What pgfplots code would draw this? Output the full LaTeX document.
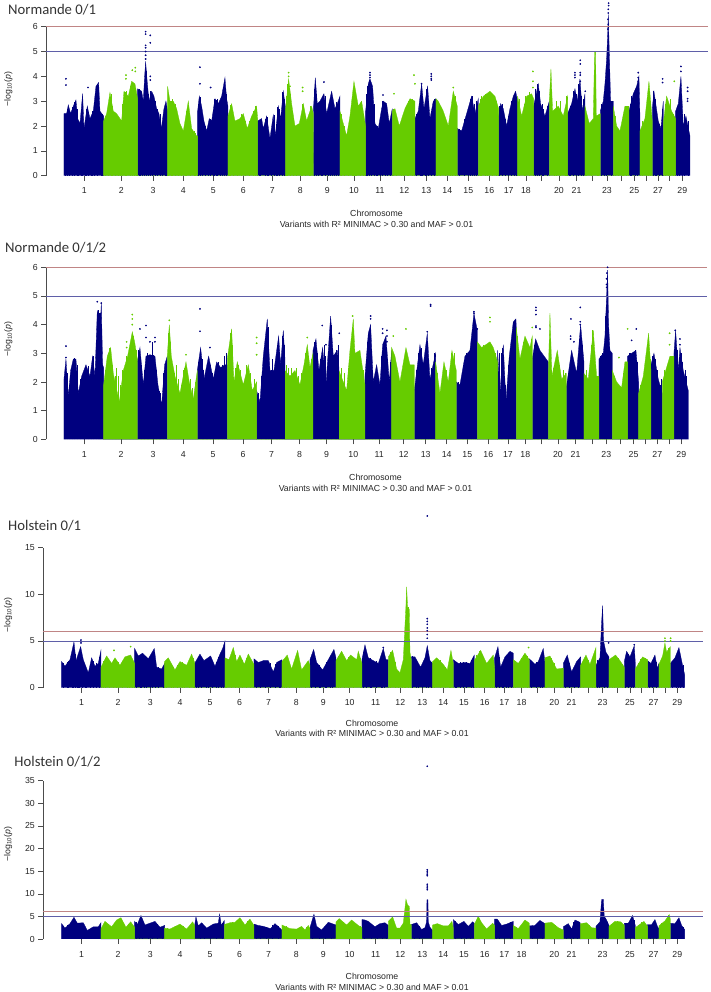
\documentclass[border=0pt]{standalone}
\usepackage{pgfplots}
\pgfplotsset{compat=1.18}
\usepackage{fontspec}
\setmainfont{Liberation Sans}
\newfontfamily\ttl{Carlito}
\definecolor{nv}{HTML}{00007F}
\definecolor{gn}{HTML}{66CC00}
\definecolor{rl}{HTML}{C08585}
\definecolor{bl}{HTML}{5F5FA8}
\newcommand{\sz}{\fontsize{8.75}{10.6}\selectfont}
\pgfplotsset{
  manh/.style={
    scale only axis, clip=false, ymin=0,
    axis lines*=left,
    x axis line style={draw=none},
    y axis line style={draw=black!70,-},
    tick style={draw=black!70,line width=0.5pt},
    tick align=outside,
    major tick length=5pt,
    xtick pos=bottom, ytick pos=left,
    tick label style={font=\sz,text=black!85},
    xticklabel style={yshift=-3.5pt},
    /pgf/number format/assume math mode=true,
    xticklabels={1,2,3,4,5,6,7,8,9,10,11,12,13,14,15,16,17,18,,20,21,,23,,25,,27,,29},
    xlabel style={font=\sz,text=black!85,align=center,anchor=north},
    ylabel style={font=\sz,text=black!85,anchor=center},
    every axis title shift=0pt,
    title style={font=\ttl\fontsize{14.7}{16}\selectfont,text=black!80,anchor=west,inner sep=0pt},
  },
  area nv/.style={fill=nv,draw=nv,line width=0.3pt},
  area gn/.style={fill=gn,draw=gn,line width=0.3pt},
  spike nv/.style={ycomb,nv,line width=0.8pt},
  spike gn/.style={ycomb,gn,line width=0.8pt},
  dots nv/.style={only marks,mark=*,mark size=0.65pt,color=nv},
  dots gn/.style={only marks,mark=*,mark size=0.65pt,color=gn},
}
\begin{document}
\begin{tikzpicture}
\path[use as bounding box] (0,0) rectangle (710pt,992pt);

% Normande 0/1  (x is position in thirds of a reference pixel)
\begin{axis}[manh, at={(46.3pt,816.3pt)}, anchor=south west, width=661.3pt, height=149pt,
  xmin=139, xmax=2123, ymax=6, ytick={0,...,6},
  xtick={253,364,459,550,640,730,817,901,982,1062,1140,1213,1279,1342,1405,1468,1526,1578,1625,1677,1730,1778,1821,1864,1903,1938,1974,2008,2047},
  title={Normande 0/1}, title style={at={(axis description cs:-0.058,1.112)}},
  xlabel={Chromosome\\Variants with R² MINIMAC > 0.30 and MAF > 0.01},
  xlabel style={at={(axis description cs:0.4993,-0.208)}},
  ylabel={−log\textsubscript{10}(\textit{p})},
  ylabel style={at={(axis description cs:-0.0575,0.582)}}]
\addplot[area nv] coordinates {
 (192,0)(192,2.5)(200,2.5)(205,2.85)(212,2.5)(220,2.8)(228,3.05)(233,2.3)(240,2.1)(248,3.3)(252,1.9)(262,2.8)(270,2.3)(280,2.6)(288,3.6)(296,3.75)(300,2.6)(311,2.4)(311,0)
 (413,0)(413,3.5)(425,3.4)(430,3.0)(434,4.0)(437,4.6)(441,3.9)(447,3.0)(455,3.4)(462,3.2)(470,2.7)(477,2.5)(484,1.9)(492,2.7)(498,3.0)(503,2.6)(503,0)
 (593,0)(593,2.6)(598,3.2)(605,2.8)(612,2.2)(620,1.8)(628,2.3)(635,2.2)(645,3.1)(655,2.9)(665,3.2)(675,3.95)(680,3.1)(684,2.8)(684,0)
 (773,0)(773,2.2)(785,2.3)(790,1.9)(800,2.4)(810,1.5)(820,2.45)(826,1.6)(835,2.8)(842,2.3)(850,3.4)(857,2.7)(857,0)
 (940,0)(941,2.8)(946,3.95)(952,2.9)(960,3.0)(972,3.3)(980,2.5)(995,3.4)(1005,2.7)(1012,2.9)(1020,3.2)(1020,0)
 (1097,0)(1097,2.6)(1105,3.7)(1110,3.9)(1118,3.6)(1125,2.1)(1135,1.9)(1145,2.7)(1150,3.0)(1160,2.9)(1168,2.1)(1177,2.7)(1177,0)
 (1245,0)(1245,2.3)(1255,2.6)(1265,3.7)(1272,2.7)(1283,3.6)(1290,2.3)(1300,3.0)(1308,3.1)(1308,0)
 (1372,0)(1372,1.9)(1385,1.8)(1400,2.5)(1415,3.2)(1425,2.5)(1435,3.1)(1435,0)
 (1496,0)(1496,2.4)(1502,2.9)(1510,2.7)(1520,2.0)(1530,2.7)(1540,3.2)(1547,3.4)(1553,3.0)(1553,0)
 (1601,0)(1601,2.8)(1615,3.7)(1622,2.9)(1635,2.4)(1648,3.0)(1648,0)
 (1703,0)(1703,2.5)(1715,2.9)(1725,3.5)(1732,3.0)(1740,3.9)(1747,2.6)(1755,3.3)(1755,0)
 (1801,0)(1801,2.6)(1810,3.0)(1815,3.7)(1820,4.7)(1823,5.6)(1825,6.5)(1828,5.0)(1832,3.0)(1840,3.0)(1840,0)
 (1887,0)(1887,2.6)(1900,3.3)(1910,3.6)(1917,4.0)(1920,2.4)(1920,0)
 (1957,0)(1957,2.7)(1962,3.4)(1975,2.2)(1983,1.9)(1990,3.0)(1990,0)
 (2027,0)(2027,2.6)(2035,2.9)(2043,4.0)(2050,2.0)(2058,2.4)(2070,1.6)(2070,0)};
\addplot[area gn] coordinates {
 (311,0)(311,2.2)(320,2.5)(330,3.35)(340,2.6)(350,2.5)(365,2.2)(372,3.4)(385,3.2)(395,3.8)(405,3.7)(413,3.1)(413,0)
 (503,0)(503,3.6)(510,3.0)(520,3.0)(530,2.7)(540,2.1)(550,1.8)(565,3.0)(575,1.9)(590,1.6)(593,1.6)(593,0)
 (684,0)(684,2.4)(695,2.9)(705,2.2)(720,2.3)(730,2.5)(742,1.9)(755,2.4)(770,2.8)(773,2.3)(773,0)
 (857,0)(857,2.7)(866,3.9)(875,2.9)(885,2.0)(898,2.1)(910,2.9)(920,2.2)(935,2.8)(940,2.5)(940,0)
 (1020,0)(1020,2.6)(1040,1.6)(1050,2.4)(1062,3.8)(1075,2.8)(1085,3.0)(1097,2.0)(1097,0)
 (1177,0)(1177,2.6)(1185,2.7)(1198,2.0)(1215,2.7)(1230,3.1)(1245,3.0)(1245,0)
 (1308,0)(1308,3.1)(1315,3.0)(1330,2.6)(1345,2.0)(1360,3.4)(1372,2.8)(1372,0)
 (1435,0)(1435,2.8)(1450,3.2)(1470,3.4)(1485,3.2)(1496,2.7)(1496,0)
 (1553,0)(1553,3.2)(1565,2.4)(1580,3.2)(1595,3.3)(1601,3.1)(1601,0)
 (1648,0)(1648,3.0)(1653,4.3)(1658,2.6)(1675,2.8)(1690,2.4)(1703,3.2)(1703,0)
 (1755,0)(1755,2.8)(1768,2.1)(1780,2.3)(1784,5.0)(1787,5.0)(1789,2.4)(1801,2.5)(1801,0)
 (1840,0)(1840,2.8)(1850,2.0)(1860,1.8)(1875,2.8)(1887,2.8)(1887,0)
 (1920,0)(1920,1.8)(1935,2.3)(1947,3.8)(1957,2.2)(1957,0)
 (1990,0)(1990,2.1)(2000,3.2)(2015,2.6)(2027,2.3)(2027,0)};
\addplot[spike nv] coordinates {
 (196,2.45)(202,2.7)(208,2.55)(216,2.75)(224,2.95)(231,2.7)(236,2.2)(243,1.9)(246,2.7)(255,1.5)(258,2.7)(266,2.55)(274,2.4)(277,2.6)(284,2.95)(291,3.55)(293,3.7)(303,2.5)(307,2.5)
 (417,3.5)(421,3.4)(428,3.1)(432,3.5)(439,4.2)(444,3.3)(450,3.1)(452,3.4)(458,3.3)(465,3.0)(473,2.7)(480,2.5)(488,1.9)(495,2.9)(500,2.7)
 (596,2.9)(601,3.15)(608,2.5)(616,2.0)(624,2.0)(632,2.3)(640,2.6)(643,3.1)(650,3.05)(652,3.1)(660,3.0)(668,3.3)(672,3.75)(678,3.3)
 (778,2.25)(782,2.25)(795,2.3)(803,2.35)(806,1.7)(815,1.7)(822,2.45)(830,2.1)(832,2.75)(838,2.7)(846,2.9)(848,3.35)(853,3.1)
 (944,3.5)(949,3.3)(955,2.6)(964,2.9)(968,2.8)(975,3.2)(984,2.6)(990,2.9)(998,3.0)(1002,2.7)(1008,2.95)(1016,2.9)
 (1100,3.3)(1103,3.6)(1108,3.85)(1114,3.7)(1122,2.9)(1128,2.0)(1131,2.0)(1140,2.1)(1148,3.0)(1155,2.8)(1163,2.3)(1172,2.1)
 (1250,2.5)(1260,3.2)(1263,3.5)(1268,3.0)(1276,2.9)(1280,3.5)(1286,3.0)(1295,2.6)(1304,3.1)
 (1378,1.9)(1392,2.3)(1405,2.6)(1410,3.1)(1418,3.2)(1422,2.9)(1430,3.0)
 (1499,2.8)(1506,2.9)(1515,2.3)(1525,2.4)(1535,3.0)(1543,3.2)(1550,3.1)
 (1606,3.5)(1611,3.7)(1618,3.4)(1627,2.9)(1631,2.7)(1642,2.8)
 (1708,2.7)(1712,2.8)(1720,3.4)(1728,3.3)(1736,3.7)(1743,3.2)(1750,3.1)
 (1805,2.9)(1813,3.3)(1818,4.3)(1835,3.0)
 (1890,2.9)(1895,3.2)(1905,3.5)(1913,3.7)
 (1960,3.4)(1966,3.1)(1970,2.6)(1978,2.1)(1987,2.7)
 (2031,2.8)(2039,3.1)(2047,2.5)(2054,2.5)(2064,2.2)};
\addplot[spike gn] coordinates {
 (316,2.4)(325,2.9)(333,3.3)(336,2.8)(345,2.5)(355,2.35)(360,2.25)(368,2.9)(376,3.35)(380,3.4)(390,3.6)(398,3.75)(402,3.6)(409,3.3)
 (506,3.3)(514,3.0)(517,3.1)(525,2.9)(535,2.3)(545,1.9)(556,2.2)(560,2.6)(570,2.2)(582,1.8)(586,1.7)
 (688,2.5)(692,2.85)(700,2.3)(712,2.2)(725,2.5)(735,2.2)(748,2.2)(760,2.6)(765,2.8)
 (860,3.2)(863,3.7)(870,3.3)(880,2.2)(890,2.0)(904,2.4)(908,2.9)(915,2.4)(927,2.4)(931,2.8)
 (1025,2.5)(1032,2.0)(1045,2.0)(1056,3.0)(1059,3.5)(1066,3.2)(1070,2.7)(1080,2.9)(1090,2.5)
 (1181,2.7)(1190,2.4)(1205,2.2)(1210,2.5)(1222,2.9)(1226,3.0)(1236,3.1)
 (1312,3.0)(1322,2.8)(1337,2.3)(1352,2.4)(1356,3.0)(1365,3.2)
 (1440,3.1)(1445,3.2)(1455,3.3)(1462,3.0)(1478,3.3)(1490,3.0)
 (1558,3.1)(1572,2.9)(1576,3.2)(1588,3.35)
 (1662,2.5)(1668,3.0)(1682,3.0)(1696,2.7)(1700,3.2)
 (1760,2.5)(1775,2.2)(1792,2.3)(1796,2.4)
 (1845,2.4)(1855,1.9)(1866,2.3)(1870,2.5)(1880,2.8)
 (1928,2.2)(1940,2.6)(1944,3.3)(1950,3.0)
 (1995,2.9)(2005,2.9)(2010,3.1)(2020,2.5)};
\addplot[dots nv] coordinates {
 (198,3.65)(198,3.9)(264,3.55)(437,5.8)(437,5.7)(437,5.25)(437,5.15)(437,5.0)(437,4.85)(437,4.7)(451,5.65)(451,5.35)(451,4.0)(451,3.85)
 (600,4.37)(600,3.7)(632,3.55)(972,3.77)(1110,4.15)(1110,4.05)(1110,3.95)(1149,3.25)(1294,4.1)(1294,4.0)(1294,3.9)(1294,3.85)(1265,3.7)
 (1725,4.15)(1725,4.05)(1725,3.95)(1741,4.65)(1741,4.5)(1741,4.15)(1741,4.05)(1741,3.8)(1756,3.4)
 (1826,6.95)(1826,6.85)(1825,6.7)(1825,6.55)(1824,6.3)(1825,6.1)(1824,5.9)(1915,4.15)(1915,3.95)(1915,3.8)(1915,3.65)
 (1988,3.9)(1988,3.75)(2043,4.4)(2043,4.2)(2063,3.55)(2063,3.4)(2063,3.1)(2063,3.0)};
\addplot[dots gn] coordinates {
 (378,4.05)(378,3.9)(397,4.25)(406,4.35)(406,4.2)(866,4.15)(866,4.0)(870,3.6)(908,3.55)(908,3.4)(1242,4.05)(1245,3.7)(1182,3.3)(1360,3.55)(1599,4.2)(1599,3.8)(1599,3.55)(2023,3.8)};
\addplot[rl,line width=0.8pt] coordinates {(139,6)(2123,6)};
\addplot[bl,line width=0.8pt] coordinates {(139,5)(2123,5)};
\end{axis}

% Normande 0/1/2
\begin{axis}[manh, at={(46.3pt,552.7pt)}, anchor=south west, width=660.3pt, height=172pt,
  xmin=139, xmax=2120, ymax=6, ytick={0,...,6},
  xtick={253,363,459,550,639,729,815,899,980,1060,1138,1211,1277,1340,1402,1465,1524,1576,1624,1674,1727,1777,1819,1862,1901,1936,1972,2007,2044},
  title={Normande 0/1/2}, title style={at={(axis description cs:-0.0625,1.112)}},
  xlabel={Chromosome\\Variants with R² MINIMAC > 0.30 and MAF > 0.01},
  xlabel style={at={(axis description cs:0.4985,-0.185)}},
  ylabel={−log\textsubscript{10}(\textit{p})},
  ylabel style={at={(axis description cs:-0.0575,0.582)}}]
\addplot[area nv] coordinates {
 (192,0)(192,2.1)(198,2.8)(205,1.5)(212,2.4)(220,2.8)(228,2.8)(235,1.6)(245,2.2)(258,2.6)(270,2.2)(278,2.9)(285,2.2)(292,4.5)(300,3.7)(304,4.75)(308,2.6)(311,2.5)(311,0)
 (412,0)(412,2.7)(420,3.2)(430,1.9)(438,2.9)(450,2.95)(465,2.9)(474,1.9)(485,1.2)(494,2.6)(502,2.9)(502,0)
 (592,0)(592,2.4)(602,3.2)(612,2.1)(626,2.9)(640,2.1)(650,2.7)(662,2.5)(675,2.6)(682,2.6)(682,0)
 (770,0)(770,1.7)(780,1.3)(790,2.9)(802,4.2)(810,2.4)(822,2.4)(836,3.6)(842,2.6)(850,3.8)(855,2.8)(855,0)
 (939,0)(939,3.1)(948,3.5)(957,2.4)(968,3.2)(978,1.9)(992,4.3)(1000,2.9)(1012,3.1)(1017,2.5)(1017,0)
 (1095,0)(1095,2.2)(1105,3.7)(1112,4.0)(1120,2.0)(1130,2.6)(1140,1.9)(1148,3.3)(1158,3.6)(1168,2.0)(1175,3.1)(1175,0)
 (1243,0)(1243,1.7)(1260,3.3)(1270,2.6)(1282,3.7)(1290,2.1)(1307,3.0)(1307,0)
 (1369,0)(1369,2.0)(1380,1.9)(1395,2.9)(1410,3.1)(1422,4.4)(1432,3.8)(1432,0)
 (1493,0)(1493,3.1)(1500,1.6)(1510,3.3)(1518,1.3)(1528,2.9)(1540,4.1)(1548,4.2)(1549,3.9)(1549,0)
 (1597,0)(1597,2.8)(1607,3.5)(1620,3.1)(1645,2.7)(1645,0)
 (1699,0)(1699,1.8)(1715,3.1)(1730,2.3)(1742,4.0)(1752,2.7)(1752,0)
 (1797,0)(1797,2.8)(1810,3.0)(1815,3.6)(1820,5.0)(1823,5.9)(1826,4.0)(1830,3.1)(1837,3.0)(1837,0)
 (1883,0)(1883,2.9)(1895,3.0)(1908,3.1)(1916,2.0)(1916,0)
 (1953,0)(1953,2.6)(1962,3.0)(1975,2.1)(1987,1.6)(1987,0)
 (2022,0)(2022,3.0)(2027,3.8)(2035,2.4)(2040,3.2)(2050,2.4)(2065,1.7)(2065,0)};
\addplot[area gn] coordinates {
 (311,0)(311,1.9)(322,2.9)(332,3.2)(340,2.3)(358,1.3)(370,2.4)(383,2.9)(397,3.75)(404,3.4)(412,2.8)(412,0)
 (502,0)(502,2.9)(508,4.0)(514,2.9)(525,2.2)(540,1.6)(558,2.7)(568,2.0)(580,1.4)(592,2.4)(592,0)
 (682,0)(682,2.8)(695,3.85)(702,2.0)(712,2.7)(730,1.9)(745,2.6)(757,1.7)(770,2.0)(770,0)
 (855,0)(855,2.4)(870,2.2)(885,2.4)(900,1.9)(912,2.6)(922,3.3)(930,2.5)(939,3.0)(939,0)
 (1017,0)(1017,2.4)(1040,1.7)(1050,3.1)(1060,4.2)(1065,3.0)(1080,3.1)(1095,1.9)(1095,0)
 (1175,0)(1175,3.2)(1185,2.9)(1200,2.0)(1218,3.2)(1230,2.6)(1243,2.6)(1243,0)
 (1307,0)(1307,2.7)(1320,1.6)(1332,2.7)(1345,2.0)(1356,3.1)(1369,2.4)(1369,0)
 (1432,0)(1432,3.4)(1445,3.2)(1470,3.4)(1480,3.2)(1493,2.7)(1493,0)
 (1549,0)(1549,3.9)(1560,2.8)(1575,3.6)(1590,3.2)(1597,3.6)(1597,0)
 (1645,0)(1645,2.2)(1650,4.4)(1656,2.2)(1672,3.1)(1685,2.1)(1699,2.3)(1699,0)
 (1752,0)(1752,2.3)(1765,2.1)(1780,3.8)(1790,2.2)(1797,2.2)(1797,0)
 (1837,0)(1837,2.4)(1850,2.0)(1865,1.8)(1875,2.7)(1883,2.7)(1883,0)
 (1916,0)(1916,1.6)(1930,2.2)(1946,3.7)(1953,2.4)(1953,0)
 (1987,0)(1987,2.0)(2010,2.9)(2022,2.9)(2022,0)};
\addplot[spike nv] coordinates {
 (195,2.4)(201,2.3)(208,1.9)(216,2.3)(224,2.85)(231,2.6)(240,2.1)(250,2.2)(254,2.3)(264,2.55)(274,2.3)(281,2.9)(288,3.3)(295,4.5)(298,4.4)(302,4.4)
 (416,3.1)(423,2.6)(434,2.4)(442,3.0)(446,2.9)(456,3.4)(461,2.95)(470,2.4)(478,1.7)(481,1.6)(490,2.3)(498,2.7)
 (596,2.7)(606,2.8)(609,2.4)(618,2.2)(622,2.6)(630,2.6)(636,2.3)(645,2.4)(656,2.7)(668,2.6)(672,2.9)(680,3.0)
 (775,1.6)(785,2.2)(795,3.3)(798,3.6)(806,3.9)(815,2.4)(818,2.8)(830,2.9)(833,3.3)(839,3.0)(846,2.9)(848,3.6)(853,3.3)
 (943,3.4)(952,3.0)(962,2.8)(965,2.9)(972,3.3)(975,2.9)(984,2.0)(988,3.6)(995,4.0)(1005,3.0)(1009,3.1)(1015,3.3)
 (1099,2.8)(1102,3.4)(1108,3.6)(1116,2.4)(1125,2.2)(1135,2.1)(1144,2.9)(1152,3.3)(1162,2.8)(1172,2.7)
 (1248,2.4)(1255,3.0)(1265,3.2)(1275,2.9)(1278,3.4)(1286,2.6)(1295,2.5)(1302,3.0)
 (1375,2.0)(1386,2.1)(1390,2.6)(1400,3.0)(1405,2.9)(1415,3.4)(1420,3.9)(1427,3.8)
 (1497,3.0)(1505,3.0)(1508,3.2)(1515,1.9)(1522,1.9)(1525,2.6)(1534,3.2)(1537,3.6)(1544,4.1)
 (1602,3.3)(1612,3.2)(1616,3.2)(1625,2.9)(1632,2.8)(1640,2.7)
 (1705,2.3)(1710,2.7)(1720,2.5)(1724,2.6)(1735,2.9)(1738,3.5)(1746,3.3)
 (1802,2.9)(1806,3.0)(1813,3.2)(1817,4.3)(1832,3.0)
 (1887,3.0)(1891,3.0)(1901,3.05)(1905,3.1)(1912,2.7)
 (1957,2.9)(1967,2.8)(1971,2.4)(1980,1.9)(1984,2.1)
 (2031,3.1)(2038,2.8)(2043,3.0)(2046,2.7)(2055,2.4)(2060,2.2)};
\addplot[spike gn] coordinates {
 (316,2.4)(326,3.0)(329,3.2)(336,2.6)(345,2.2)(349,2.5)(354,2.2)(362,1.9)(366,2.4)(376,2.5)(380,2.9)(388,2.8)(392,3.3)(400,3.6)(408,3.1)
 (505,3.7)(511,3.4)(518,2.6)(522,2.3)(530,2.6)(535,2.1)(545,1.9)(550,2.4)(554,2.5)(563,2.1)(572,2.1)(576,1.8)(586,2.0)
 (688,3.0)(692,3.7)(698,3.3)(707,2.5)(716,2.6)(722,2.4)(735,2.0)(740,2.6)(750,2.3)(764,2.1)
 (860,2.6)(865,2.5)(875,2.5)(880,2.3)(890,2.5)(895,2.2)(905,2.3)(917,3.0)(926,2.9)(935,2.8)
 (1025,2.5)(1032,2.3)(1045,2.5)(1055,3.4)(1058,3.9)(1070,2.5)(1075,2.9)(1085,2.5)(1090,2.4)
 (1180,3.0)(1192,2.4)(1205,2.2)(1212,2.5)(1224,2.6)(1236,2.6)
 (1313,2.3)(1326,2.2)(1338,2.4)(1350,2.4)(1353,3.0)(1362,3.0)
 (1438,3.2)(1450,3.3)(1458,3.3)(1465,3.3)(1475,3.3)(1486,3.0)
 (1553,3.6)(1565,3.0)(1570,3.4)(1582,3.1)(1586,3.2)(1593,3.5)
 (1660,2.5)(1665,2.7)(1678,2.6)(1690,2.4)(1695,2.3)
 (1758,2.4)(1770,2.2)(1775,3.3)(1778,3.8)(1785,2.3)
 (1842,2.2)(1856,1.9)(1870,2.3)(1878,2.6)
 (1922,1.9)(1935,2.4)(1942,3.2)(1950,2.8)
 (1992,2.4)(1998,2.4)(2003,2.6)(2013,2.8)(2018,2.9)};
\addplot[dots nv] coordinates {
 (292,4.8)(304,4.75)(198,3.25)(198,2.85)(420,3.85)(438,3.97)(438,3.55)(465,3.55)(465,3.4)(450,3.4)(600,4.55)(600,3.77)(630,3.2)(967,3.97)(1018,3.7)(978,3.3)
 (1112,4.3)(1112,4.2)(1148,3.85)(1148,3.7)(1161,3.8)(1161,3.6)(1161,3.4)(1292,4.7)(1292,4.65)(1282,3.75)
 (1422,4.45)(1422,4.4)(1432,3.85)(1608,4.6)(1608,4.5)(1608,4.35)(1608,3.95)(1608,3.9)(1620,3.85)
 (1713,4.2)(1712,3.6)(1712,3.5)(1741,4.6)(1741,4.1)(1741,4.0)(1722,3.4)
 (1823,6.0)(1821,5.8)(1820,5.6)(1820,5.4)(1820,5.3)(1909,3.85)(1895,3.45)(2026,3.8)(2040,3.5)(2040,3.3)};
\addplot[dots gn] coordinates {
 (397,4.35)(397,4.2)(397,4.0)(380,3.4)(380,3.2)(508,4.15)(558,2.95)(770,3.55)(770,3.35)(770,2.95)(922,3.55)(1058,4.3)(1470,4.25)(1470,4.1)(1218,3.85)(1180,3.6)(1597,3.9)(1883,3.85)(2009,3.7)(2009,3.3)(1857,2.85)};
\addplot[rl,line width=0.8pt] coordinates {(139,6)(2120,6)};
\addplot[bl,line width=0.8pt] coordinates {(139,5)(2120,5)};
\end{axis}

% Holstein 0/1
\begin{axis}[manh, at={(43.3pt,304.3pt)}, anchor=south west, width=659.3pt, height=140pt,
  xmin=130, xmax=2108, ymax=15, ytick={0,5,10,15},
  xtick={245,354,451,540,630,719,806,889,970,1049,1127,1201,1267,1330,1392,1454,1513,1565,1613,1663,1715,1766,1808,1851,1890,1924,1961,1995,2032},
  title={Holstein 0/1}, title style={at={(axis description cs:-0.0535,1.157)}},
  xlabel={Chromosome\\Variants with R² MINIMAC > 0.30 and MAF > 0.01},
  xlabel style={at={(axis description cs:0.4985,-0.205)}},
  ylabel={−log\textsubscript{10}(\textit{p})},
  ylabel style={at={(axis description cs:-0.0535,0.52)}}]
\addplot[area nv] coordinates {
 (185,0)(185,2.8)(195,2.3)(210,3.0)(222,4.9)(228,2.9)(242,4.4)(250,3.0)(265,1.6)(275,3.2)(285,2.3)(295,2.6)(303,4.0)(303,0)
 (404,0)(404,4.2)(415,3.4)(428,3.7)(445,3.1)(463,4.2)(470,2.2)(485,2.0)(494,2.6)(494,0)
 (584,0)(584,2.6)(600,3.6)(612,2.9)(632,3.4)(645,2.3)(660,3.6)(668,4.2)(675,5.0)(675,0)
 (762,0)(762,3.1)(775,2.7)(790,2.9)(805,2.9)(820,1.7)(830,2.7)(846,3.0)(846,0)
 (930,0)(930,3.0)(941,4.1)(950,2.7)(968,1.9)(985,3.0)(1002,4.1)(1008,3.2)(1008,0)
 (1086,0)(1086,3.0)(1095,4.6)(1105,3.2)(1120,2.9)(1135,2.6)(1150,4.2)(1158,3.0)(1165,3.0)(1165,0)
 (1234,0)(1234,3.3)(1245,3.3)(1262,2.2)(1275,3.2)(1282,4.5)(1290,2.9)(1298,2.6)(1298,0)
 (1360,0)(1360,3.0)(1375,2.6)(1395,2.7)(1410,2.6)(1423,3.5)(1423,0)
 (1484,0)(1484,3.2)(1494,4.4)(1502,2.2)(1515,3.3)(1530,3.9)(1540,3.7)(1540,0)
 (1588,0)(1588,3.1)(1605,2.5)(1615,2.8)(1630,4.2)(1635,2.7)(1635,0)
 (1690,0)(1690,2.6)(1702,3.5)(1715,1.7)(1730,2.8)(1742,3.3)(1742,0)
 (1788,0)(1788,2.4)(1800,3.2)(1805,7.0)(1808,8.8)(1811,5.0)(1818,3.8)(1827,3.3)(1827,0)
 (1873,0)(1873,2.8)(1880,3.9)(1890,3.3)(1903,4.5)(1906,2.7)(1906,0)
 (1943,0)(1943,2.9)(1953,2.6)(1965,3.5)(1972,2.1)(1977,2.6)(1977,0)
 (2011,0)(2011,2.6)(2025,3.2)(2037,4.3)(2045,2.9)(2054,1.4)(2054,0)};
\addplot[area gn] coordinates {
 (303,0)(303,2.2)(320,3.4)(335,2.6)(345,3.2)(360,2.4)(375,3.3)(392,3.5)(404,2.6)(404,0)
 (494,0)(494,2.8)(505,3.2)(525,1.9)(540,2.8)(560,2.4)(575,3.6)(584,2.7)(584,0)
 (675,0)(675,3.2)(687,3.0)(700,4.3)(710,2.8)(720,3.5)(733,2.5)(745,3.6)(762,2.5)(762,0)
 (846,0)(846,2.8)(862,3.5)(875,2.0)(893,4.0)(905,1.9)(925,2.9)(930,2.4)(930,0)
 (1008,0)(1008,2.9)(1025,3.9)(1040,2.9)(1052,3.5)(1070,3.0)(1075,3.9)(1086,2.6)(1086,0)
 (1165,0)(1165,3.3)(1178,4.0)(1190,2.0)(1200,1.6)(1210,3.0)(1218,8.8)(1220,10.8)(1223,8.6)(1228,8.4)(1230,3.8)(1234,3.0)(1234,0)
 (1298,0)(1298,2.8)(1310,3.2)(1330,2.5)(1342,1.9)(1353,4.0)(1360,2.6)(1360,0)
 (1423,0)(1423,2.9)(1442,4.0)(1460,2.6)(1480,3.5)(1484,2.0)(1484,0)
 (1540,0)(1540,3.0)(1555,2.6)(1575,3.7)(1588,3.0)(1588,0)
 (1635,0)(1635,3.2)(1650,3.4)(1670,2.0)(1690,2.1)(1690,0)
 (1742,0)(1742,2.4)(1758,3.5)(1770,2.5)(1788,4.3)(1788,0)
 (1827,0)(1827,3.0)(1847,3.5)(1860,2.9)(1873,2.2)(1873,0)
 (1906,0)(1906,2.0)(1928,3.3)(1943,3.0)(1943,0)
 (1977,0)(1977,2.5)(1988,3.4)(1995,4.8)(2000,3.8)(2011,4.4)(2011,0)};
\addplot[spike nv] coordinates {
 (190,2.6)(202,2.7)(206,2.9)(216,3.2)(219,4.2)(225,3.6)(232,3.3)(236,3.0)(239,3.8)(246,3.2)(256,2.2)(260,1.8)(270,2.3)(280,2.9)(290,2.6)(299,3.3)
 (408,3.7)(420,3.4)(423,3.5)(434,3.3)(440,3.2)(450,3.0)(456,3.2)(467,2.8)(475,2.2)(490,2.3)
 (590,2.9)(596,3.2)(605,3.1)(620,2.9)(626,3.0)(638,2.8)(650,2.8)(655,3.3)(664,3.7)(670,3.3)
 (768,2.9)(782,2.8)(797,2.6)(812,2.6)(826,2.5)(838,2.7)(842,2.9)
 (935,3.3)(945,3.2)(957,2.4)(962,2.2)(975,2.4)(980,2.7)(992,3.1)(998,3.2)
 (1090,3.8)(1100,3.6)(1110,3.2)(1115,3.0)(1128,2.9)(1143,3.2)(1146,3.6)(1154,3.1)
 (1238,3.4)(1250,3.0)(1256,2.5)(1268,2.3)(1278,3.7)(1286,3.4)(1294,2.8)
 (1365,2.8)(1370,2.7)(1382,2.8)(1390,2.8)(1400,2.8)(1415,3.0)(1420,3.3)
 (1488,3.5)(1498,3.3)(1506,2.5)(1510,2.9)(1520,3.1)(1525,3.5)(1535,3.7)
 (1595,2.8)(1610,2.8)(1622,3.2)(1627,3.7)
 (1696,3.0)(1708,2.6)(1722,2.2)(1736,2.9)
 (1793,3.0)(1797,3.0)(1814,4.2)(1822,3.5)
 (1876,3.0)(1885,3.6)(1895,3.6)(1900,4.3)
 (1948,2.7)(1958,3.0)(1968,2.8)
 (2018,2.9)(2030,3.0)(2034,3.9)(2041,3.4)(2050,2.4)};
\addplot[spike gn] coordinates {
 (310,2.9)(315,3.2)(328,2.9)(340,3.0)(350,2.9)(355,2.8)(368,2.9)(382,3.3)(387,3.4)(398,3.0)
 (500,3.0)(515,2.4)(520,2.2)(532,2.4)(548,2.7)(553,2.5)(567,3.0)(580,3.2)
 (680,3.1)(694,3.5)(705,3.5)(715,3.1)(727,3.0)(740,3.2)(752,3.1)
 (852,3.1)(858,3.2)(868,2.5)(885,3.0)(890,3.5)(898,2.5)(915,2.4)
 (1015,3.4)(1020,3.7)(1032,3.3)(1046,3.3)(1060,3.2)(1080,3.2)
 (1172,3.8)(1185,2.7)(1195,1.8)(1206,2.4)(1214,4.0)(1216,7.0)(1226,8.6)(1232,3.2)
 (1304,3.0)(1320,3.0)(1336,2.2)(1348,2.9)(1350,3.6)
 (1430,3.5)(1437,3.9)(1450,3.3)(1470,3.0)(1476,3.3)
 (1546,2.9)(1565,3.2)(1570,3.5)(1582,3.4)
 (1640,3.3)(1655,3.2)(1662,2.6)(1680,2.0)
 (1750,3.0)(1764,3.0)(1778,3.1)(1784,3.6)
 (1837,3.2)(1842,3.3)(1855,3.2)(1867,2.5)
 (1915,2.6)(1922,3.1)(1935,3.2)
 (1983,3.0)(1992,4.0)(2005,4.2)};
\addplot[dots nv] coordinates {
 (243,5.1)(243,4.8)(1150,4.3)(1282,18.4)(1282,7.4)(1282,7.1)(1282,6.8)(1282,6.4)(1282,6.1)(1282,5.7)(1282,5.3)(1826,4.8)(1903,4.6)};
\addplot[dots gn] coordinates {
 (342,4.0)(392,4.4)(1586,4.3)(1995,5.3)(1995,5.0)(2012,5.3)(2012,5.0)};
\addplot[rl,line width=0.8pt] coordinates {(130,6)(2108,6)};
\addplot[bl,line width=0.8pt] coordinates {(130,5)(2108,5)};
\end{axis}

% Holstein 0/1/2
\begin{axis}[manh, at={(43.3pt,53pt)}, anchor=south west, width=659.3pt, height=158.3pt,
  xmin=130, xmax=2108, ymax=35, ytick={0,5,...,35},
  xtick={245,354,451,540,630,719,806,889,970,1049,1127,1201,1267,1330,1392,1454,1513,1565,1613,1663,1715,1766,1808,1851,1890,1924,1961,1995,2032},
  title={Holstein 0/1/2}, title style={at={(axis description cs:-0.044,1.12)}},
  xlabel={Chromosome\\Variants with R² MINIMAC > 0.30 and MAF > 0.01},
  xlabel style={at={(axis description cs:0.4985,-0.195)}},
  ylabel={−log\textsubscript{10}(\textit{p})},
  ylabel style={at={(axis description cs:-0.0535,0.6)}}]
\addplot[area nv] coordinates {
 (185,0)(185,3.4)(195,2.4)(210,3.4)(222,4.8)(232,3.5)(250,3.6)(262,1.9)(280,2.7)(295,2.7)(303,3.6)(303,0)
 (404,0)(404,3.9)(412,3.2)(423,5.2)(435,3.1)(465,3.9)(480,2.6)(494,3.0)(494,0)
 (584,0)(584,3.0)(588,4.9)(595,2.9)(605,3.6)(620,2.4)(640,3.3)(655,3.5)(659,5.5)(664,3.0)(673,4.1)(673,0)
 (762,0)(762,3.3)(775,3.0)(790,2.8)(812,2.3)(825,3.4)(846,2.0)(846,0)
 (930,0)(930,2.5)(942,5.5)(950,2.8)(965,2.0)(985,3.7)(1008,3.1)(1008,0)
 (1086,0)(1086,4.3)(1095,4.2)(1105,3.9)(1125,2.7)(1140,3.4)(1155,3.6)(1165,3.0)(1165,0)
 (1234,0)(1234,3.2)(1250,3.6)(1265,2.1)(1275,2.5)(1280,3.8)(1281,8.7)(1284,8.7)(1285,3.8)(1290,2.6)(1298,1.9)(1298,0)
 (1360,0)(1360,4.3)(1375,3.2)(1392,3.9)(1405,2.8)(1418,3.8)(1423,3.5)(1423,0)
 (1484,0)(1484,4.4)(1492,4.4)(1505,3.0)(1520,3.3)(1540,3.9)(1540,0)
 (1588,0)(1588,2.9)(1605,3.0)(1620,4.1)(1635,3.4)(1635,0)
 (1690,0)(1690,2.7)(1705,3.4)(1715,2.2)(1725,4.2)(1740,3.7)(1742,3.0)(1742,0)
 (1788,0)(1788,2.8)(1800,3.8)(1805,8.7)(1810,8.8)(1813,5.0)(1820,4.2)(1827,3.0)(1827,0)
 (1873,0)(1873,3.5)(1885,3.5)(1898,5.2)(1906,3.0)(1906,0)
 (1943,0)(1943,3.2)(1955,3.2)(1965,4.3)(1975,2.3)(1977,2.5)(1977,0)
 (2011,0)(2011,3.5)(2025,3.4)(2037,4.7)(2045,3.0)(2054,2.1)(2054,0)};
\addplot[area gn] coordinates {
 (303,0)(303,2.3)(315,3.9)(335,2.7)(350,4.2)(363,4.7)(378,2.6)(392,3.8)(404,2.6)(404,0)
 (494,0)(494,2.4)(510,2.2)(540,3.3)(560,2.2)(578,3.8)(584,3.0)(584,0)
 (673,0)(673,3.2)(690,3.6)(705,3.7)(720,4.7)(735,3.1)(750,4.4)(762,3.0)(762,0)
 (846,0)(846,3.1)(870,2.3)(890,2.2)(905,2.8)(915,2.0)(925,3.0)(930,2.3)(930,0)
 (1008,0)(1008,3.8)(1018,4.5)(1040,3.1)(1055,4.2)(1075,3.0)(1086,2.5)(1086,0)
 (1165,0)(1165,3.9)(1178,4.9)(1190,2.4)(1200,2.4)(1210,3.5)(1218,8.8)(1223,7.5)(1228,7.2)(1230,3.3)(1234,3.2)(1234,0)
 (1298,0)(1298,3.1)(1312,3.4)(1330,2.9)(1345,2.9)(1356,3.9)(1360,2.4)(1360,0)
 (1423,0)(1423,3.2)(1435,5.0)(1445,3.6)(1460,2.2)(1478,3.5)(1484,3.0)(1484,0)
 (1540,0)(1540,3.0)(1555,2.3)(1575,4.2)(1588,3.5)(1588,0)
 (1635,0)(1635,3.5)(1655,3.7)(1675,2.5)(1690,2.0)(1690,0)
 (1742,0)(1742,3.4)(1760,3.6)(1775,2.5)(1788,2.4)(1788,0)
 (1827,0)(1827,2.8)(1845,3.9)(1862,3.8)(1873,3.0)(1873,0)
 (1906,0)(1906,2.5)(1932,3.9)(1943,2.8)(1943,0)
 (1977,0)(1977,2.9)(1995,4.0)(2008,5.4)(2011,4.4)(2011,0)};
\addplot[spike nv] coordinates {
 (190,2.9)(203,3.0)(216,4.0)(226,3.9)(240,3.6)(256,2.4)(270,2.2)(288,2.7)
 (408,3.7)(418,4.2)(428,4.0)(445,3.3)(456,3.6)(472,3.4)(487,2.7)
 (600,3.2)(612,2.9)(630,2.8)(650,3.4)(668,3.6)
 (768,3.2)(782,2.9)(800,2.6)(818,3.0)(835,2.8)
 (936,3.0)(958,2.3)(975,2.7)(995,3.2)
 (1092,4.1)(1115,3.2)(1132,3.0)(1148,3.4)(1160,3.4)
 (1242,3.4)(1258,2.9)
 (1366,3.9)(1385,3.5)(1400,3.2)(1412,3.4)
 (1488,4.3)(1498,3.4)(1512,3.2)(1530,3.7)
 (1598,2.9)(1612,3.5)(1628,3.6)
 (1698,3.2)(1710,2.7)(1720,3.7)(1733,3.9)
 (1795,3.2)(1816,4.6)(1823,3.7)
 (1878,3.5)(1892,3.8)(1902,4.2)
 (1950,3.2)(1960,3.6)(1970,3.0)
 (2018,3.4)(2032,3.8)(2041,3.4)(2050,2.6)};
\addplot[spike gn] coordinates {
 (309,3.2)(325,3.3)(342,3.5)(356,4.4)(370,3.6)(385,3.4)(398,3.0)
 (502,2.4)(525,2.8)(550,2.8)(570,3.0)
 (682,3.4)(698,3.7)(712,4.2)(728,3.7)(742,3.9)(756,3.5)
 (858,2.8)(880,2.3)(898,2.5)(920,2.6)
 (1014,4.2)(1030,3.7)(1048,3.8)(1062,3.6)(1080,2.9)
 (1172,4.5)(1184,3.3)(1195,2.4)(1205,2.8)(1214,4.0)(1226,7.4)
 (1305,3.3)(1322,3.1)(1338,2.9)(1350,3.4)
 (1430,4.2)(1440,4.0)(1452,2.9)(1470,3.0)
 (1548,2.7)(1565,3.2)(1580,3.8)
 (1645,3.6)(1665,3.2)(1682,2.3)
 (1750,3.5)(1768,3.2)(1782,2.5)
 (1835,3.3)(1852,3.9)(1868,3.4)
 (1915,3.2)(1925,3.7)(1936,3.3)
 (1985,3.5)(2000,4.4)(2006,5.2)};
\addplot[dots nv] coordinates {
 (1282,38.2)(1282,15.3)(1282,15)(1282,14.6)(1282,14.2)(1282,14)(1282,12.1)(1282,11.7)(1282,11.3)(1282,10.9)};
\addplot[rl,line width=0.8pt] coordinates {(130,6)(2108,6)};
\addplot[bl,line width=0.8pt] coordinates {(130,5)(2108,5)};
\end{axis}
\end{tikzpicture}
\end{document}
